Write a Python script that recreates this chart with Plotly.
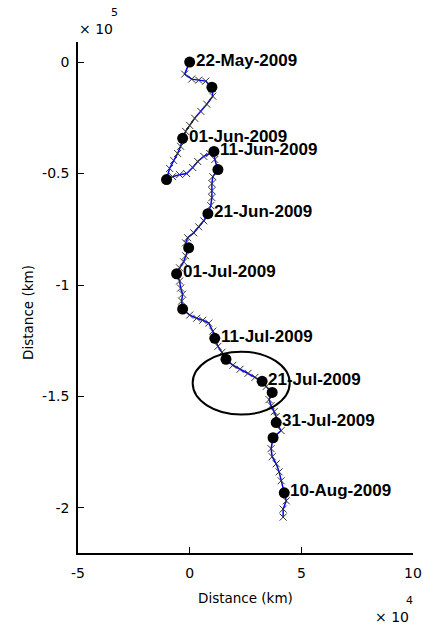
import plotly.graph_objects as go

# Track positions (x, y) in the ×10^4 / ×10^5 distance frame
track_x = [0, -2250, 900, 4050, 7200, 9950, 10350, 7650, 4950, 2250, 0, -1800,
           -3150, -4050, -5400, -7200, -9000, -10350, -7650, -4500, -1350, 1350,
           3600, 6300, 9000, 10850, 11250, 12650, 10350, 9950, 9950, 9950, 9450,
           8150, 6300, 4050, 1800, -900, -1800, -450, -1800, -2700, -4500, -5850,
           -4500, -4050, -3150, -3600, -3150, 0, 3150, 5850, 8550, 10350, 11250,
           12650, 14450, 16250, 19350, 22550, 26150, 29250, 32450, 34250, 36950,
           35550, 36450, 37850, 38750, 38750, 40950, 37350, 36450, 36950, 38750,
           40050, 40950, 42350, 43250, 41850, 41850]
track_y = [0, -5400, -7650, -8100, -8550, -11300, -15300, -18900, -22100, -25200,
           -28400, -31100, -34200, -37800, -41000, -44100, -47700, -52700, -51400,
           -50500, -50000, -47300, -44600, -42300, -41000, -40100, -43700, -48200,
           -51400, -54500, -57700, -60800, -64400, -68000, -71200, -73900, -76600,
           -78800, -81100, -83300, -86900, -89600, -92300, -95000, -98200, -101400,
           -104100, -107200, -110800, -113500, -114900, -115800, -117100, -120700,
           -123900, -127500, -130200, -133300, -136000, -137800, -139600, -141400,
           -143200, -145500, -148200, -151400, -154100, -156800, -159000, -161700,
           -165300, -168500, -173400, -177000, -180200, -183800, -187800, -193200,
           -196800, -200500, -204100]

# Five-day fixes along the track
fix_dates = ["22-May-2009", "27-May-2009", "01-Jun-2009", "06-Jun-2009",
             "11-Jun-2009", "16-Jun-2009", "21-Jun-2009", "26-Jun-2009",
             "01-Jul-2009", "06-Jul-2009", "11-Jul-2009", "16-Jul-2009",
             "21-Jul-2009", "26-Jul-2009", "31-Jul-2009", "05-Aug-2009",
             "10-Aug-2009"]
fix_x = [0, 9950, -3150, -10350, 10850, 12650, 8150, -450, -5850, -3150, 11250,
         16250, 32450, 36950, 38750, 37350, 42350]
fix_y = [0, -11300, -34200, -52700, -40100, -48200, -68000, -83300, -95000,
         -110800, -123900, -133300, -143200, -148200, -161700, -168500, -193200]

# Axis ticks
x_tick_vals = [-50000, 0, 50000, 100000]
x_tick_text = ["-5", "0", "5", "10"]
y_tick_vals = [0, -50000, -100000, -150000, -200000]
y_tick_text = ["0", "-0.5", "-1", "-1.5", "-2"]

# Highlight ellipse (centre and semi-axes)
ell_cx, ell_cy = 23070, -144000
ell_rx, ell_ry = 21730, 14110

AX_FONT = dict(family="DejaVu Sans", size=14, color="black")
LBL_FONT = dict(family="Liberation Sans, Arial", size=17, color="black")

fig = go.Figure()

fig.add_trace(go.Scatter(
    x=track_x, y=track_y, mode="lines",
    line=dict(color="#0000ff", width=1.5), hoverinfo="skip", showlegend=False))
fig.add_trace(go.Scatter(
    x=track_x, y=track_y, mode="markers",
    marker=dict(symbol="x-thin", size=7, line=dict(color="#333333", width=1)),
    hoverinfo="skip", showlegend=False))
fig.add_trace(go.Scatter(
    x=fix_x, y=fix_y, mode="markers", text=fix_dates,
    marker=dict(symbol="circle", size=11, color="black"),
    showlegend=False))

# Date labels every ten days
for i in range(0, len(fix_dates), 2):
    fig.add_annotation(x=fix_x[i], y=fix_y[i], text="<b>%s</b>" % fix_dates[i],
                       showarrow=False, xanchor="left", yanchor="middle",
                       xshift=4, yshift=2, font=LBL_FONT)

fig.add_shape(type="circle", xref="x", yref="y",
              x0=ell_cx - ell_rx, x1=ell_cx + ell_rx,
              y0=ell_cy - ell_ry, y1=ell_cy + ell_ry,
              line=dict(color="black", width=2))

# Axis titles and exponent labels
fig.add_annotation(xref="paper", yref="paper", x=0.5, y=-0.088,
                   text="Distance (km)", showarrow=False,
                   xanchor="center", yanchor="middle",
                   font=dict(family="DejaVu Sans", size=13.5, color="black"))
fig.add_annotation(xref="paper", yref="paper", x=-0.149, y=0.47,
                   text="Distance (km)", showarrow=False, textangle=-90,
                   xanchor="center", yanchor="middle",
                   font=dict(family="DejaVu Sans", size=13.5, color="black"))
fig.add_annotation(xref="paper", yref="paper", x=-0.003, y=1.025,
                   text="× 10", showarrow=False, xanchor="left", yanchor="middle",
                   font=AX_FONT)
fig.add_annotation(xref="paper", yref="paper", x=0.108, y=1.058,
                   text="5", showarrow=False, xanchor="center", yanchor="middle",
                   font=dict(family="DejaVu Sans", size=11, color="black"))
fig.add_annotation(xref="paper", yref="paper", x=0.882, y=-0.125,
                   text="× 10", showarrow=False, xanchor="left", yanchor="middle",
                   font=AX_FONT)
fig.add_annotation(xref="paper", yref="paper", x=0.990, y=-0.092,
                   text="4", showarrow=False, xanchor="center", yanchor="middle",
                   font=dict(family="DejaVu Sans", size=11, color="black"))

fig.update_xaxes(range=[-50000, 100000], tickvals=x_tick_vals, ticktext=x_tick_text,
                 ticks="inside", ticklen=6, tickwidth=1, tickcolor="black",
                 showline=True, linecolor="black", linewidth=1.5,
                 showgrid=False, zeroline=False, tickfont=AX_FONT,
                 ticklabelstandoff=6, automargin=False)
fig.update_yaxes(range=[-220200, 9000], tickvals=y_tick_vals, ticktext=y_tick_text,
                 ticks="inside", ticklen=6, tickwidth=1, tickcolor="black",
                 showline=True, linecolor="black", linewidth=1.5,
                 showgrid=False, zeroline=False, tickfont=AX_FONT,
                 ticklabelstandoff=4, automargin=False)

fig.update_layout(width=423, height=626, autosize=False,
                  margin=dict(l=78, r=10, t=42, b=73),
                  plot_bgcolor="white", paper_bgcolor="white",
                  font=AX_FONT)

fig.write_html("out.html")
